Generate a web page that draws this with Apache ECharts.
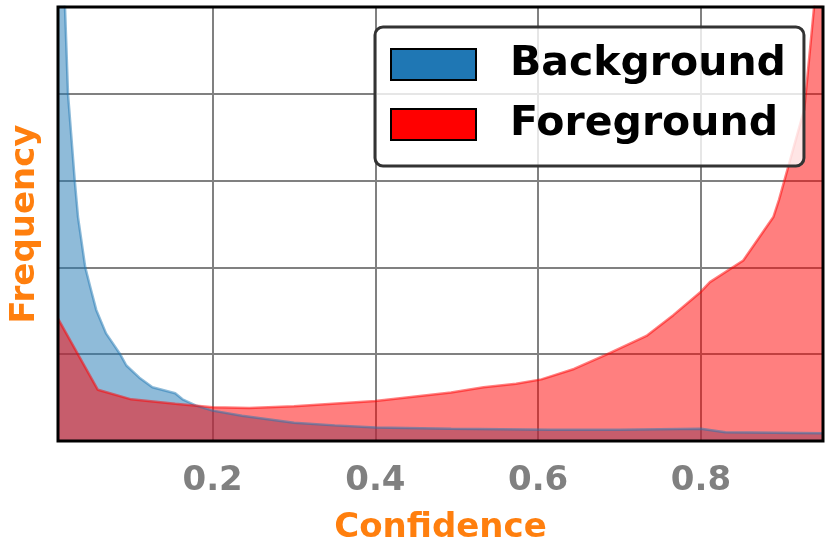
<!DOCTYPE html>
<html>
<head>
<meta charset="utf-8">
<script src="https://cdn.jsdelivr.net/npm/echarts@6/dist/echarts.min.js"></script>
<style>
html,body{margin:0;padding:0;background:#fff;}
#chart{width:831px;height:554px;}
</style>
</head>
<body>
<div id="chart"></div>
<script>
// Background (blue) curve
var bgX = [0.01, 0.0186, 0.0223, 0.0306, 0.0346, 0.0435, 0.0506, 0.057, 0.069, 0.077, 0.087, 0.094, 0.110, 0.126, 0.154, 0.163, 0.179, 0.2, 0.236, 0.3, 0.35, 0.4, 0.493, 0.615, 0.7, 0.8, 0.83, 0.95];
var bgY = [6.5, 5.0, 4.0, 3.0, 2.58, 2.0, 1.74, 1.51, 1.24, 1.13, 0.99, 0.87, 0.73, 0.62, 0.55, 0.48, 0.41, 0.35, 0.29, 0.21, 0.18, 0.155, 0.14, 0.13, 0.13, 0.14, 0.10, 0.09];
// Foreground (red) curve
var fgX = [0.01, 0.059, 0.10, 0.154, 0.2, 0.245, 0.3, 0.4, 0.493, 0.533, 0.573, 0.604, 0.644, 0.685, 0.733, 0.766, 0.8, 0.811, 0.852, 0.889, 0.896, 0.927, 0.939, 0.95];
var fgY = [1.41, 0.59, 0.48, 0.43, 0.39, 0.38, 0.40, 0.46, 0.56, 0.62, 0.66, 0.71, 0.83, 1.0, 1.21, 1.45, 1.72, 1.83, 2.08, 2.58, 2.78, 3.82, 5.0, 7.0];
var seriesNames = ['Background', 'Foreground'];
var xLabelValues = [0.2, 0.4, 0.6, 0.8];

function pairs(xs, ys) { return xs.map(function (x, i) { return [x, ys[i]]; }); }

var font = 'DejaVu Sans';
var chart = echarts.init(document.getElementById('chart'));
var option = {
  animation: false,
  backgroundColor: '#fff',
  grid: { left: 55, right: 8, top: 7, bottom: 113, containLabel: false },
  legend: {
    orient: 'vertical',
    left: 375, top: 27,
    itemWidth: 85, itemHeight: 31, itemGap: 19,
    padding: [17, 18, 21, 15],
    backgroundColor: 'rgba(255,255,255,0.8)',
    borderColor: '#333', borderWidth: 3, borderRadius: 8,
    icon: 'rect',
    textStyle: { fontFamily: font, fontWeight: 'bold', fontSize: 41, color: '#000', lineHeight: 31, padding: [0, 0, 0, 29] },
    data: [
      { name: seriesNames[0], itemStyle: { color: '#1f77b4', borderColor: '#000', borderWidth: 2, opacity: 1 } },
      { name: seriesNames[1], itemStyle: { color: '#ff0000', borderColor: '#000', borderWidth: 2, opacity: 1 } }
    ]
  },
  xAxis: {
    type: 'value', min: 0.01, max: 0.95, splitNumber: 5,
    name: 'Confidence', nameLocation: 'middle', nameGap: 70,
    nameTextStyle: { fontFamily: font, fontWeight: 'bold', fontSize: 34, color: '#ff7f0e' },
    axisLine: { show: false }, axisTick: { show: false },
    axisLabel: {
      fontFamily: font, fontWeight: 'bold', fontSize: 34, color: '#808080', margin: 23,
      showMinLabel: false, showMaxLabel: false,
      formatter: function (v) { return xLabelValues.indexOf(Math.round(v * 10) / 10) >= 0 && Math.abs(v - Math.round(v * 10) / 10) < 1e-6 ? v.toFixed(1) : ''; }
    },
    splitLine: { show: true, lineStyle: { color: '#808080', width: 2 } }
  },
  yAxis: {
    type: 'value', min: 0, max: 5, interval: 1,
    name: 'Frequency', nameLocation: 'middle', nameGap: 16,
    nameTextStyle: { fontFamily: font, fontWeight: 'bold', fontSize: 34, color: '#ff7f0e' },
    axisLine: { show: false }, axisTick: { show: false }, axisLabel: { show: false },
    splitLine: { show: true, lineStyle: { color: '#808080', width: 2 } }
  },
  series: [
    {
      name: seriesNames[0], type: 'line', data: pairs(bgX, bgY), symbol: 'none', clip: true,
      lineStyle: { color: 'rgba(31,119,180,0.5)', width: 2.5 },
      itemStyle: { color: '#1f77b4' },
      areaStyle: { color: 'rgba(31,119,180,0.5)', opacity: 1 }
    },
    {
      name: seriesNames[1], type: 'line', data: pairs(fgX, fgY), symbol: 'none', clip: true,
      lineStyle: { color: 'rgba(255,0,0,0.5)', width: 2.5 },
      itemStyle: { color: '#ff0000' },
      areaStyle: { color: 'rgba(255,0,0,0.5)', opacity: 1 }
    }
  ]
};
chart.setOption(option);
var rect = chart.getModel().getComponent('grid').coordinateSystem.getRect();
chart.setOption({
  graphic: [{
    type: 'rect', z: 100, silent: true,
    shape: { x: rect.x, y: rect.y, width: rect.width, height: rect.height },
    style: { fill: null, stroke: '#000', lineWidth: 3 }
  }]
});
</script>
</body>
</html>
